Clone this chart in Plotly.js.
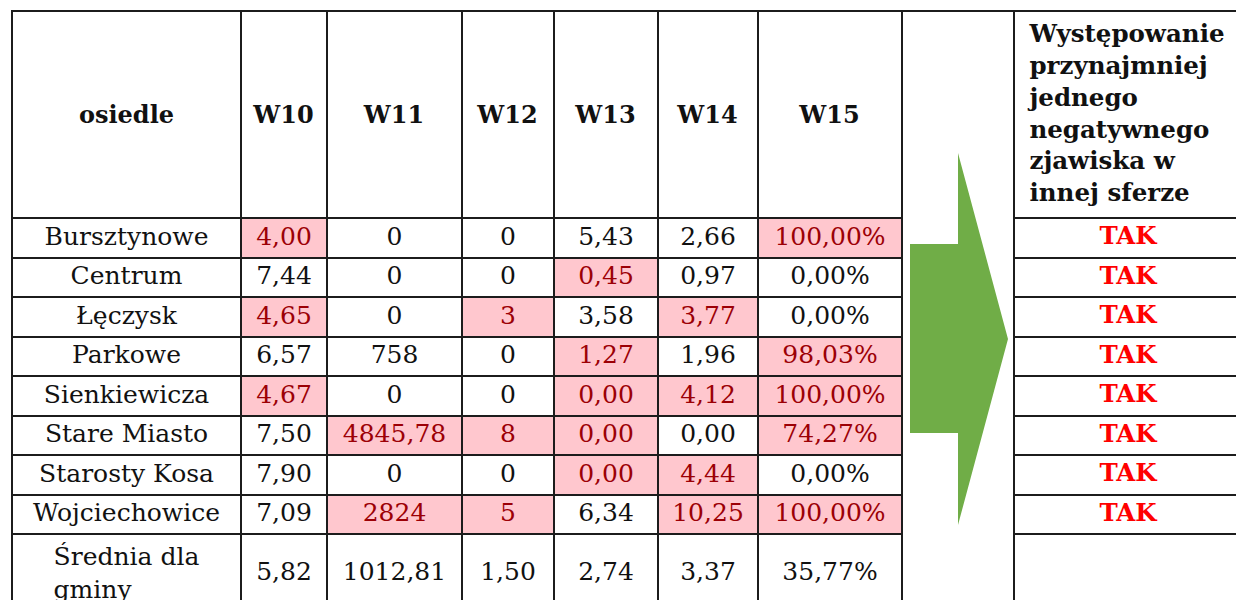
<!DOCTYPE html>
<html><head><meta charset="utf-8">
<script src="https://cdn.plot.ly/plotly-3.0.1.min.js"></script>
<style>html,body{margin:0;padding:0;overflow:hidden;background:#fff;width:1236px;height:600px}</style>
</head><body><div id="chart"></div>
<script>
// ---- data ----
const districts = ['Bursztynowe','Centrum','Łęczysk','Parkowe','Sienkiewicza','Stare Miasto','Starosty Kosa','Wojciechowice'];
const avgLabel = 'Średnia dla<br>gminy';
const headers = ['osiedle','W10','W11','W12','W13','W14','W15'];
const w10 = [4.00, 7.44, 4.65, 6.57, 4.67, 7.50, 7.90, 7.09];
const w11 = [0, 0, 0, 758, 0, 4845.78, 0, 2824];
const w12 = [0, 0, 3, 0, 0, 8, 0, 5];
const w13 = [5.43, 0.45, 3.58, 1.27, 0.00, 0.00, 0.00, 6.34];
const w14 = [2.66, 0.97, 3.77, 1.96, 4.12, 0.00, 4.44, 10.25];
const w15 = [100.00, 0.00, 0.00, 98.03, 100.00, 74.27, 0.00, 100.00];
const averages = [5.82, 1012.81, 1.50, 2.74, 3.37, 35.77];
// highlighted (negative) cells
const hl10 = [1,0,1,0,1,0,0,0];
const hl11 = [0,0,0,0,0,1,0,1];
const hl12 = [0,0,1,0,0,1,0,1];
const hl13 = [0,1,0,1,1,1,1,0];
const hl14 = [0,0,1,0,1,0,1,1];
const hl15 = [1,0,0,1,1,1,0,1];
const rightHeader = 'Występowanie<br>przynajmniej<br>jednego<br>negatywnego<br>zjawiska w<br>innej sferze';
const answers = ['TAK','TAK','TAK','TAK','TAK','TAK','TAK','TAK'];

// ---- geometry helpers ----
const W = 1244, H = 640, ML = 12, MT = 11, MR = 2, MB = 0;
const PW = W - ML - MR, PH = H - MT - MB;
const px = x => (x - ML) / PW;
const py = y => 1 - (y - MT) / PH;

const fmt2 = v => v.toFixed(2).replace('.', ',');
const fmtAuto = v => Number.isInteger(v) ? String(v) : fmt2(v);
const fmtPct = v => fmt2(v) + '%';

const series = [w10, w11, w12, w13, w14, w15];
const fmts = [fmt2, fmtAuto, fmtAuto, fmt2, fmt2, fmtPct];
const flags = [hl10, hl11, hl12, hl13, hl14, hl15];

const PINK = '#FFC7CE', DARKRED = '#9C0006', INK = '#111111';
const valSpan = t => '&nbsp;<br><span style="font-size:25px">' + t + '</span>';

const colValues = [districts.concat([avgLabel])];
const colFill = [districts.map(() => '#ffffff').concat(['#ffffff'])];
const colFont = [districts.map(() => INK).concat([INK])];
const colSize = [districts.map(() => 25).concat([25])];
series.forEach((s, i) => {
  const avgFmt = i === 2 ? fmt2 : fmts[i];
  colValues.push(s.map(fmts[i]).concat([valSpan(avgFmt(averages[i]))]));
  colFill.push(s.map((v, j) => flags[i][j] ? PINK : '#ffffff').concat(['#ffffff']));
  colFont.push(s.map((v, j) => flags[i][j] ? DARKRED : INK).concat([INK]));
  colSize.push(s.map(() => 25).concat([17]));
});

const hdrText = headers.map(h => '&nbsp;<br>&nbsp;<br><span style="font-size:24px"><b>' + h + '</b></span>');

const lineStyle = {color: '#1c1c1c', width: 2};
const table1 = {
  type: 'table',
  domain: {x: [px(12), px(902)], y: [0, 1]},
  columnwidth: [229, 86, 135, 92, 104, 100, 144],
  header: {
    values: hdrText,
    align: 'center', height: 207,
    line: lineStyle, fill: {color: '#ffffff'},
    font: {family: 'DejaVu Serif', size: 29.5, color: INK}
  },
  cells: {
    values: colValues,
    align: 'center', height: 39.5,
    line: lineStyle, fill: {color: colFill},
    font: {family: 'DejaVu Serif', size: colSize, color: colFont}
  }
};
const table2 = {
  type: 'table',
  domain: {x: [px(1014), 1], y: [0, 1]},
  columnwidth: [1],
  header: {
    values: ['<b>' + rightHeader + '</b>'],
    align: 'center', height: 207,
    line: lineStyle, fill: {color: '#ffffff'},
    font: {family: 'DejaVu Serif', size: 24.5, color: INK}
  },
  cells: {
    values: [answers.concat(['&nbsp;<br>&nbsp;'])],
    align: 'center', height: 39.5,
    line: lineStyle, fill: {color: '#ffffff'},
    font: {family: 'DejaVu Serif', size: 24.5, color: '#FF0000', weight: 'bold'}
  }
};

// arrow (decoration in the merged column)
const arrowPts = [[910,244],[958,244],[958,153],[1008,339],[958,525],[958,433],[910,433]];
const arrowPath = 'M' + arrowPts.map(p => px(p[0]) + ',' + py(p[1])).join(' L') + ' Z';

const layout = {
  width: W, height: H,
  margin: {l: ML, r: MR, t: MT, b: MB},
  paper_bgcolor: '#ffffff', plot_bgcolor: '#ffffff',
  showlegend: false,
  shapes: [
    {type: 'line', xref: 'paper', yref: 'paper', x0: px(902), x1: px(1014), y0: 1, y1: 1, line: {color: '#1c1c1c', width: 2}},
    {type: 'path', xref: 'paper', yref: 'paper', path: arrowPath, fillcolor: '#70AD47', line: {width: 0}}
  ]
};
Plotly.newPlot('chart', [table1, table2], layout, {displayModeBar: false, staticPlot: true});
</script></body></html>
